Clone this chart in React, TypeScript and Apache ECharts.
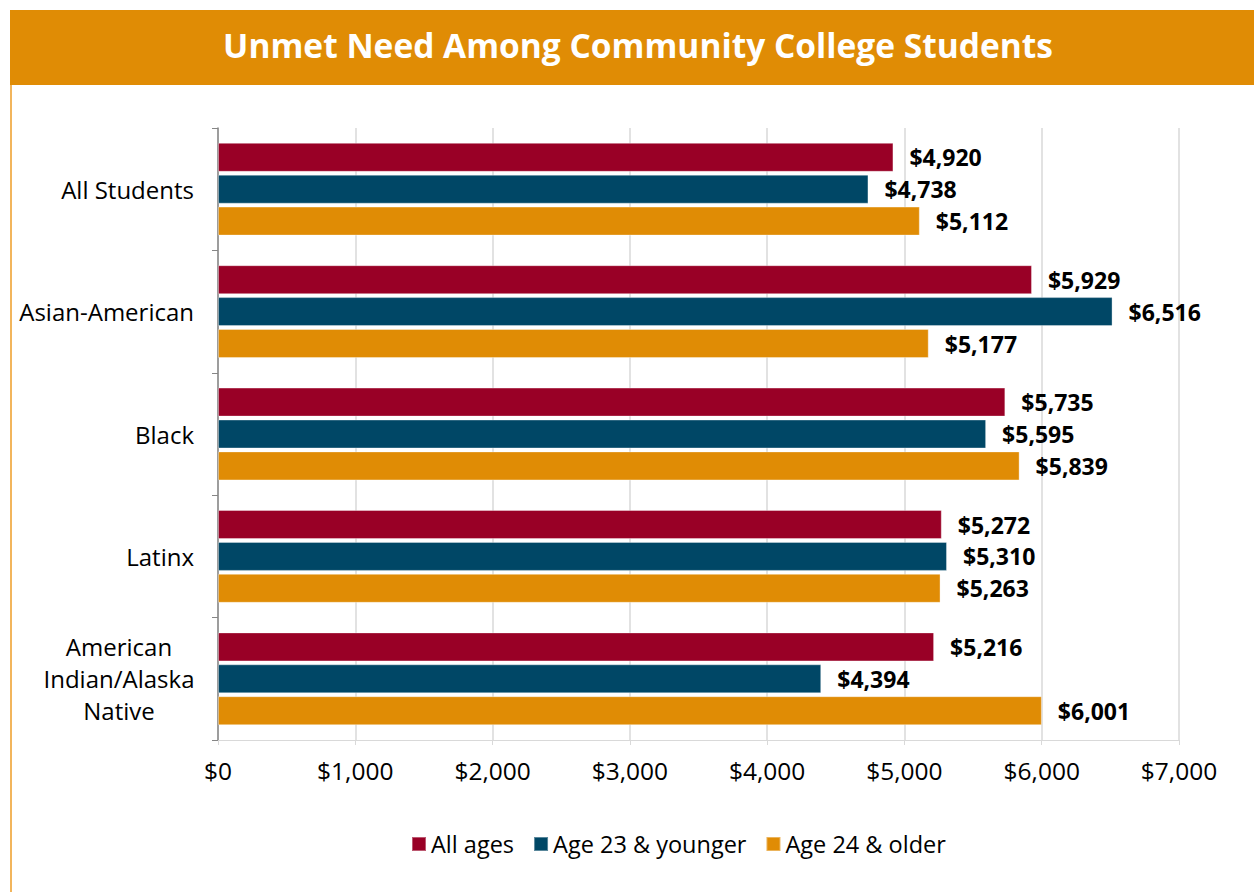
import React, { useEffect, useRef } from "react";
import * as echarts from "echarts";

const categories = ["All Students", "Asian-American", "Black", "Latinx", "American\nIndian/Alaska\nNative"];
const seriesNames = ["All ages", "Age 23 & younger", "Age 24 & older"];
const allAges = [4920, 5929, 5735, 5272, 5216];
const age23Younger = [4738, 6516, 5595, 5310, 4394];
const age24Older = [5112, 5177, 5839, 5263, 6001];
const colors = ["#990026", "#004766", "#E08C05"];
const titleText = "Unmet Need Among Community College Students";

const fmt = (v: number) => "$" + v.toLocaleString("en-US");

export default function App() {
  const ref = useRef<HTMLDivElement>(null);
  useEffect(() => {
    document.body.style.margin = "0";
    const chart = echarts.init(ref.current!, null, { renderer: "svg" });
    const font = "'Open Sans', sans-serif";
    const values = [allAges, age23Younger, age24Older];
    chart.setOption({
      animation: false,
      textStyle: { fontFamily: font },
      title: {
        text: titleText,
        left: 633,
        top: 23,
        textAlign: "center",
        textStyle: { color: "#fff", fontSize: 33.5, fontWeight: "bold", fontFamily: font },
      },
      graphic: [
        { type: "rect", shape: { x: 10, y: 10, width: 1244, height: 75 }, style: { fill: "#E08C05" }, z: -1 },
        { type: "rect", shape: { x: 10, y: 85, width: 2, height: 807 }, style: { fill: "#F2B55C" }, z: -1 },
      ],
      legend: {
        data: seriesNames,
        left: 406,
        top: 827,
        itemWidth: 14,
        itemHeight: 14,
        itemGap: 19,
        icon: "rect",
        textStyle: { fontSize: 23.5, color: "#000", fontFamily: font },
      },
      grid: { left: 218, right: 75, top: 128, bottom: 152, containLabel: false },
      xAxis: {
        type: "value",
        min: 0,
        max: 7000,
        interval: 1000,
        axisLine: { show: true, lineStyle: { color: "#d9d9d9" } },
        axisTick: { show: true, length: 5, lineStyle: { color: "#d9d9d9" } },
        splitLine: { show: true, lineStyle: { color: "#d9d9d9", width: 1.5 } },
        axisLabel: { formatter: (v: number) => fmt(v), fontSize: 24.5, color: "#000", margin: 18, fontFamily: font },
      },
      yAxis: {
        type: "category",
        data: categories,
        inverse: true,
        axisLine: { show: true, lineStyle: { color: "#868686", width: 1.5 } },
        axisTick: { show: true, length: 6, lineStyle: { color: "#868686" } },
        axisLabel: {
          fontSize: 24,
          color: "#000",
          margin: 24,
          fontFamily: font,
          lineHeight: 32,
          formatter: (v: string) =>
            v.includes("\n") ? v.split("\n").map((l) => "{c|" + l + "}").join("\n") : v,
          rich: { c: { align: "center", width: 150, fontSize: 24, lineHeight: 32, color: "#000", fontFamily: font } },
        },
      },
      series: seriesNames.map((name, i) => ({
        name,
        type: "bar",
        data: values[i],
        barWidth: 29,
        barGap: "10%",
        itemStyle: { color: colors[i], borderColor: "rgba(255,255,255,0.35)", borderWidth: 1 },
        label: {
          show: true,
          position: "right",
          distance: 16,
          formatter: (p: any) => fmt(p.value),
          fontSize: 23,
          fontWeight: "bold",
          color: "#000",
          fontFamily: font,
        },
      })),
    });
    return () => chart.dispose();
  }, []);
  return <div ref={ref} style={{ width: 1254, height: 892 }} />;
}
